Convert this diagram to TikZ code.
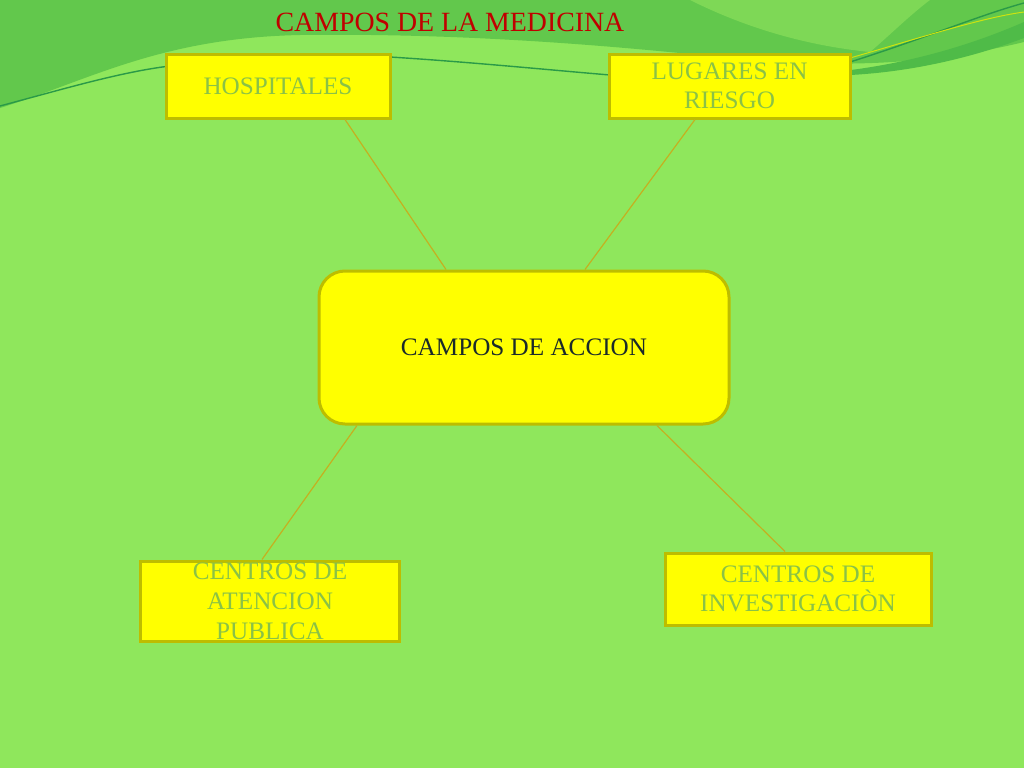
\documentclass[tikz,border=0pt]{standalone}
\usepackage{fontspec}
\setmainfont{Liberation Serif}
\usetikzlibrary{calc}
\definecolor{bgbase}{HTML}{8FE75C}
\definecolor{bgdark}{HTML}{62C84C}
\definecolor{bglight}{HTML}{7ED856}
\definecolor{bgband}{HTML}{4FBB48}
\definecolor{wave}{HTML}{2A9A48}
\definecolor{boxfill}{HTML}{FFFF00}
\definecolor{boxedge}{HTML}{BDBD00}
\definecolor{boxtext}{HTML}{8AC246}
\definecolor{linkcol}{HTML}{C4B020}
\definecolor{titlecol}{HTML}{C00000}
\definecolor{centertext}{HTML}{1A2A2A}
\tikzset{
  box/.style={draw=boxedge, line width=0.75mm, fill=boxfill, inner sep=0pt,
    align=center, text=boxtext, font=\fontsize{17.9}{21}\selectfont},
  hub/.style={box, rounded corners=6.5mm, text=centertext},
  link/.style={draw=linkcol, line width=0.3mm},
}
\begin{document}
\begin{tikzpicture}[x=0.25mm, y=-0.25mm]
\useasboundingbox (0,0) rectangle (1024,768);
% background
\fill[bgbase] (0,0) rectangle (1024,768);
\fill[bgdark] (0,0) -- (0,108) .. controls (90,80) and (160,38) .. (300,35)
  .. controls (460,33) and (600,45) .. (700,55)
  .. controls (800,65) and (900,72) .. (1024,42) -- (1024,0) -- cycle;
\fill[bglight] (690,0) .. controls (740,25) and (800,45) .. (870,52)
  .. controls (890,35) and (910,15) .. (930,0) -- cycle;
\fill[bgband] (790,75) .. controls (880,72) and (960,50) .. (1024,22)
  -- (1024,38) .. controls (960,62) and (880,80) .. (790,75) -- cycle;
\draw[wave, line width=0.35mm] (0,106) .. controls (60,90) and (120,72) .. (170,66);
\draw[wave, line width=0.35mm] (390,57) .. controls (470,62) and (550,70) .. (610,75);
\draw[wave, line width=0.35mm] (850,62) .. controls (920,40) and (980,15) .. (1024,3);
\draw[yellow!80!green, line width=0.25mm] (850,58) .. controls (920,38) and (980,18) .. (1024,12);
% title
\node[text=titlecol, font=\fontsize{19.8}{23}\selectfont] (title) at (450,22) {CAMPOS DE LA MEDICINA};
% nodes
\node[box, minimum width=56mm, minimum height=16mm] (hosp) at (278,86) {HOSPITALES};
\node[box, minimum width=60.25mm, minimum height=16mm] (lug) at (729.5,86) {LUGARES EN\\RIESGO};
\node[hub, minimum width=102.5mm, minimum height=38.25mm] (acc) at (524,347.5) {CAMPOS DE ACCION};
\node[box, minimum width=64.5mm, minimum height=20mm,
  label={[text=boxtext, font=\fontsize{17.9}{21.3}\selectfont, align=center]center:CENTROS DE\\ATENCION\\PUBLICA}]
  (cent1) at (270,601) {};
\node[box, minimum width=66.5mm, minimum height=18mm] (cent2) at (798,589) {CENTROS DE\\INVESTIGACIÒN};
% connectors
\draw[link] ($(hosp.south)+(67,0)$) -- ($(acc.north)+(-78,0)$);
\draw[link] ($(lug.south)+(-34.5,0)$) -- ($(acc.north)+(61,0)$);
\draw[link] ($(acc.south)+(-167,0)$) -- ($(cent1.north)+(-8,0)$);
\draw[link] ($(acc.south)+(133,0)$) -- ($(cent2.north)+(-13,0)$);
\end{tikzpicture}
\end{document}
